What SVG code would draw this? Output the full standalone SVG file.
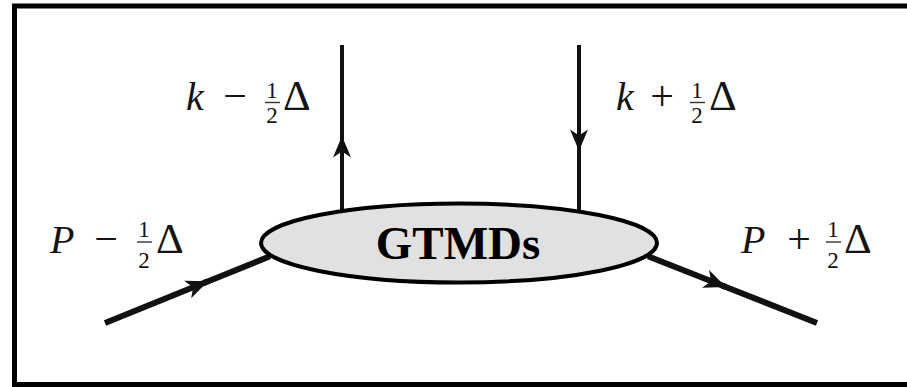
<svg xmlns="http://www.w3.org/2000/svg" width="907" height="387" viewBox="0 0 907 387">
  <style>
    .line { stroke: #111; fill: none; stroke-linecap: butt; }
    .thin { stroke-width: 4; }
    .thick { stroke-width: 6; }
    .bar { stroke: #333; stroke-width: 1.4; }
  </style>
  <defs>
    <marker id="arr" markerUnits="userSpaceOnUse" markerWidth="30" markerHeight="30" refX="0" refY="0" viewBox="-20 -10 25 20" orient="auto" overflow="visible">
      <path d="M0,0 L-18,-7.5 L-13,0 L-18,7.5 Z" fill="#111"/>
    </marker>
    <marker id="arrBig" markerUnits="userSpaceOnUse" markerWidth="30" markerHeight="30" refX="0" refY="0" viewBox="-25 -12 30 24" orient="auto" overflow="visible">
      <path d="M0,0 L-22,-9.5 L-16,0 L-22,9.5 Z" fill="#111"/>
    </marker>
  </defs>
  <rect x="0" y="0" width="907" height="387" fill="#ffffff"/>
  <rect id="frame" x="14.5" y="6" width="900" height="378.5" fill="none" stroke="#000" stroke-width="5"/>

  <g id="connectors">
    <path class="line thin" d="M342,211 L342,136" marker-end="url(#arr)"/>
    <path class="line thin" d="M342,140 L342,45"/>
    <path class="line thin" d="M579,45 L579,151" marker-end="url(#arr)"/>
    <path class="line thin" d="M579,148 L579,211"/>
    <path class="line thick" d="M105,323 L208,281.3" marker-end="url(#arrBig)"/>
    <path class="line thick" d="M204,283 L270,256.3"/>
    <path class="line thick" d="M648,256.3 L726,287" marker-end="url(#arrBig)"/>
    <path class="line thick" d="M722,285.5 L817,323"/>
  </g>

  <g id="gtmds">
    <ellipse cx="459" cy="243" rx="198" ry="39.5" fill="#e1e1e1" stroke="#000" stroke-width="4"/>
    <text x="458" y="259" text-anchor="middle" font-family="Liberation Serif, serif" font-weight="bold" font-size="47" fill="#000">GTMDs</text>
  </g>

  <g id="label-k-minus" font-family="Liberation Serif, serif" fill="#141414">
    <text x="186" y="110" font-size="40" font-style="italic">k</text>
    <text x="235" y="110" font-size="42" text-anchor="middle">−</text>
    <text x="272" y="98" font-size="23" text-anchor="middle">1</text>
    <line class="bar" x1="265" y1="102.5" x2="280" y2="102.5"/>
    <text x="272" y="123" font-size="23" text-anchor="middle">2</text>
    <text x="283" y="110" font-size="43">Δ</text>
  </g>

  <g id="label-k-plus" font-family="Liberation Serif, serif" fill="#141414">
    <text x="616" y="110" font-size="40" font-style="italic">k</text>
    <text x="662" y="110" font-size="42" text-anchor="middle">+</text>
    <text x="697" y="98" font-size="23" text-anchor="middle">1</text>
    <line class="bar" x1="690" y1="102.5" x2="705" y2="102.5"/>
    <text x="697" y="123" font-size="23" text-anchor="middle">2</text>
    <text x="709" y="110" font-size="43">Δ</text>
  </g>

  <g id="label-P-minus" font-family="Liberation Serif, serif" fill="#141414">
    <text x="50" y="253" font-size="40" font-style="italic">P</text>
    <text x="106" y="253" font-size="42" text-anchor="middle">−</text>
    <text x="144" y="237" font-size="23" text-anchor="middle">1</text>
    <line class="bar" x1="137" y1="242" x2="152" y2="242"/>
    <text x="144" y="268" font-size="23" text-anchor="middle">2</text>
    <text x="156" y="253" font-size="43">Δ</text>
  </g>

  <g id="label-P-plus" font-family="Liberation Serif, serif" fill="#141414">
    <text x="741" y="253" font-size="40" font-style="italic">P</text>
    <text x="799" y="253" font-size="42" text-anchor="middle">+</text>
    <text x="833" y="237" font-size="23" text-anchor="middle">1</text>
    <line class="bar" x1="826" y1="242" x2="841" y2="242"/>
    <text x="833" y="268" font-size="23" text-anchor="middle">2</text>
    <text x="844" y="253" font-size="43">Δ</text>
  </g>
</svg>
